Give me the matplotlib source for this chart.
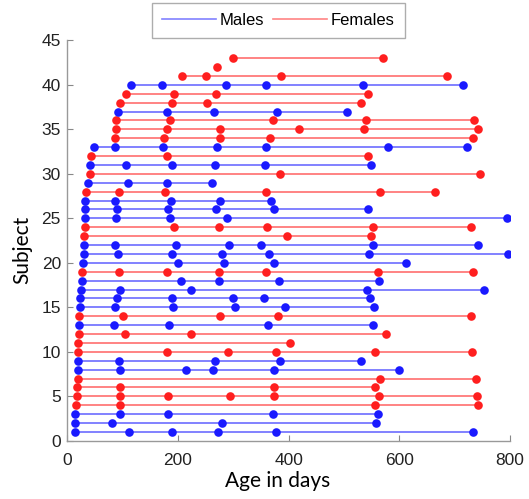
import matplotlib
matplotlib.use("Agg")
import matplotlib.pyplot as plt
from matplotlib.lines import Line2D

subject_ages = [
    [14, 112, 189, 273, 377, 734],
    [14, 81, 280, 558],
    [15, 96, 183, 371, 561],
    [16, 96, 557, 742],
    [17, 95, 183, 295, 374, 563, 740],
    [18, 96, 374, 556],
    [20, 566, 738],
    [20, 95, 215, 263, 374, 599],
    [20, 93, 267, 384, 531],
    [20, 181, 291, 377, 557, 732],
    [20, 403],
    [21, 104, 224, 576],
    [21, 84, 184, 363, 553],
    [22, 101, 277, 380, 730],
    [24, 87, 192, 303, 394, 554],
    [24, 90, 190, 300, 356, 548],
    [25, 96, 223, 542, 754],
    [27, 205, 275, 383, 564],
    [27, 93, 181, 275, 359, 562, 733],
    [28, 201, 283, 374, 613],
    [30, 91, 190, 280, 365, 545, 796],
    [30, 87, 197, 292, 351, 553, 742],
    [31, 397, 549],
    [33, 193, 275, 361, 553, 730],
    [33, 89, 186, 288, 795],
    [33, 90, 183, 268, 374, 543],
    [33, 87, 188, 277, 368],
    [34, 93, 177, 359, 566, 665],
    [38, 110, 180, 262],
    [42, 384, 745],
    [42, 106, 190, 267, 357, 549],
    [43, 181, 544],
    [48, 87, 174, 271, 360, 580, 723],
    [86, 175, 276, 366, 733],
    [89, 180, 277, 418, 536, 742],
    [89, 186, 371, 540, 735],
    [92, 181, 265, 379, 506],
    [96, 190, 253, 531],
    [107, 193, 268, 544],
    [115, 172, 287, 360, 534, 715],
    [207, 250, 386, 687],
    [271],
    [300, 571],
]
subject_sex = list("MMMFFFFMMFFFMFMMMMFMMMFFMMMFMFMFMFFFMFFMFFF")
sex_labels = {"M": "Males", "F": "Females"}
x_ticks = [0, 200, 400, 600, 800]
y_ticks = [0, 5, 10, 15, 20, 25, 30, 35, 40, 45]

colors = {"M": "#1a1aff", "F": "#ff1f1f"}

fig = plt.figure(figsize=(5.29, 4.99), dpi=100)
ax = fig.add_axes([0.127, 0.1166, 0.837, 0.8026])

for i, (ages, sx) in enumerate(zip(subject_ages, subject_sex)):
    subj = i + 1
    ys = [subj] * len(ages)
    ax.plot(ages, ys, '-', color=colors[sx], alpha=0.55, lw=1.4, zorder=1)
    ax.plot(ages, ys, 'o', color=colors[sx], ms=6.2, mec='none', zorder=2)

ax.set_xlim(0, 800)
ax.set_ylim(0, 45)
ax.set_xticks(x_ticks)
ax.set_yticks(y_ticks)
ax.tick_params(direction='in', length=4, color='#888888', labelsize=12.5,
               labelcolor='#222222')
ax.tick_params(axis='x', pad=9)
ax.tick_params(axis='y', pad=4.5)
for lab in ax.get_xticklabels() + ax.get_yticklabels():
    lab.set_family('Liberation Sans')
for s in ['top', 'right']:
    ax.spines[s].set_visible(False)
for s in ['left', 'bottom']:
    ax.spines[s].set_color('#999999')
    ax.spines[s].set_linewidth(1.0)

ax.set_xlabel("Age in days", fontsize=15, family='Lato')
ax.set_ylabel("Subject", fontsize=15, family='Lato')
ax.xaxis.set_label_coords(0.475, -0.075)
ax.yaxis.set_label_coords(-0.078, 0.477)

handles = [Line2D([], [], color=colors[k], alpha=0.55, lw=1.2) for k in ["M", "F"]]
leg = fig.legend(handles, [sex_labels["M"], sex_labels["F"]], ncol=2,
                 loc='upper center', bbox_to_anchor=(0.5265, 0.994),
                 frameon=True, fancybox=False, edgecolor='#999999',
                 handlelength=3.2, handletextpad=0.25, columnspacing=0.55,
                 borderpad=0.6, borderaxespad=0.0,
                 prop={'family': 'Liberation Sans', 'size': 12})
leg.get_frame().set_linewidth(1.0)

fig.savefig("out.png", dpi=100)
